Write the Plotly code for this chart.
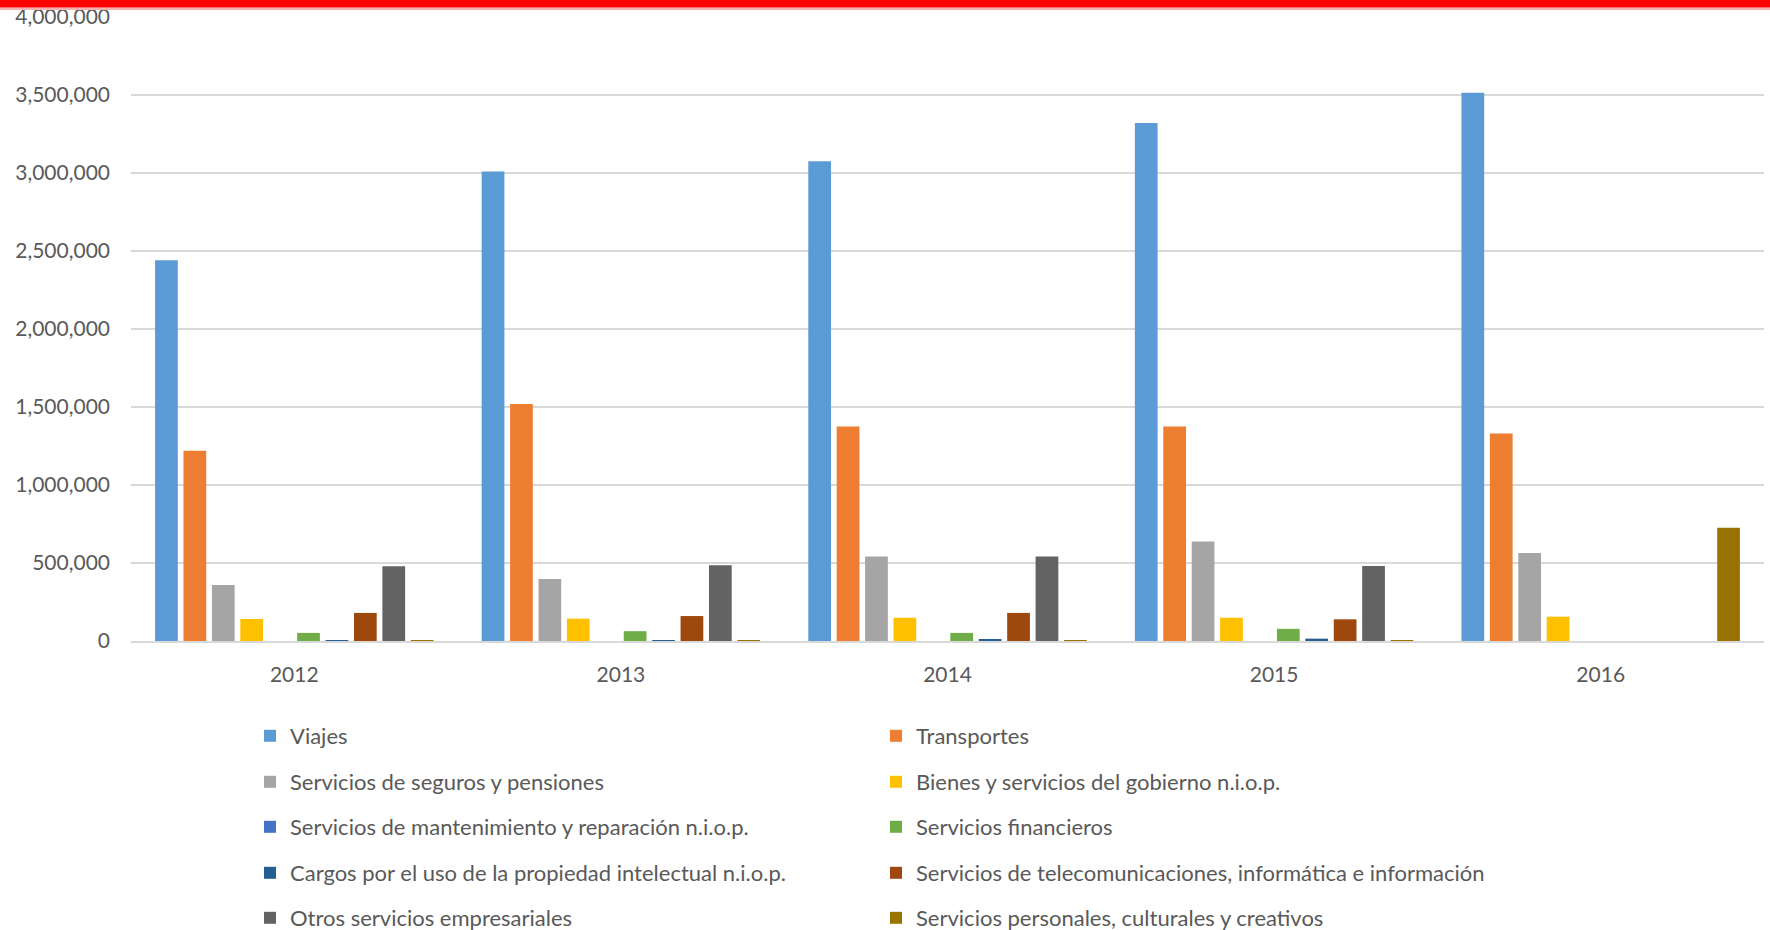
import plotly.graph_objects as go

years = ["2012", "2013", "2014", "2015", "2016"]

viajes = [2440000, 3010000, 3075000, 3320000, 3515000]
transportes = [1220000, 1520000, 1375000, 1375000, 1330000]
seguros = [359000, 398000, 541000, 638000, 564000]
bienes = [141000, 143000, 149000, 149000, 156000]
mantenimiento = [None, None, None, None, None]
financieros = [52000, 63000, 52000, 78000, None]
cargos = [6000, 2000, 6500, 15000, None]
telecom = [180000, 160000, 180000, 139000, None]
otros = [479000, 485000, 541000, 481000, None]
personales = [6000, 1000, 2000, 2000, 726000]

series_names = [
    "Viajes",
    "Transportes",
    "Servicios de seguros y pensiones",
    "Bienes y servicios del gobierno n.i.o.p.",
    "Servicios de mantenimiento y reparación n.i.o.p.",
    "Servicios financieros",
    "Cargos por el uso de la propiedad intelectual n.i.o.p.",
    "Servicios de telecomunicaciones, informática e información",
    "Otros servicios empresariales",
    "Servicios personales, culturales y creativos",
]
series_values = [viajes, transportes, seguros, bienes, mantenimiento,
                 financieros, cargos, telecom, otros, personales]
colors = ["#5B9BD5", "#ED7D31", "#A5A5A5", "#FFC000", "#4472C4",
          "#70AD47", "#255E91", "#9E480E", "#636363", "#997300"]

FONT = "Lato"
TXT = "#595959"

W, H = 1770, 930
L, R = 131, 1764
T, B = 17, 641
pw, ph = R - L, B - T

fig = go.Figure()
legend_layout = {}
row_px = [736, 782, 827, 873, 918]
col_px = [250, 876]
for i, (name, vals, col) in enumerate(zip(series_names, series_values, colors)):
    key = "legend" if i == 0 else f"legend{i+1}"
    fig.add_trace(go.Bar(x=years, y=vals, name=name, marker_color=col,
                         marker_line_width=0, legend=key))
    r, c = divmod(i, 2)
    legend_layout[key] = dict(
        x=(col_px[c] - L) / pw, y=(B - row_px[r]) / ph,
        xanchor="left", yanchor="middle", orientation="h",
        font=dict(family=FONT, size=22, color=TXT),
        bgcolor="rgba(0,0,0,0)", borderwidth=0,
    )

fig.update_layout(
    width=W, height=H,
    margin=dict(l=L, r=W - R, t=T, b=H - B, autoexpand=False),
    paper_bgcolor="white", plot_bgcolor="white",
    barmode="group", bargap=0.13, bargroupgap=0.2,
    font=dict(family=FONT, size=21, color=TXT),
    showlegend=True,
    **legend_layout,
)
fig.update_yaxes(range=[0, 4000000], dtick=500000, tickformat=",d",
                 showgrid=True, gridcolor="#D9D9D9", gridwidth=1.5,
                 zeroline=False, showline=False, ticks="",
                 ticklabelstandoff=20,
                 tickfont=dict(family=FONT, size=21, color=TXT))
fig.update_xaxes(type="category", showline=True, linecolor="#D9D9D9",
                 linewidth=1.5, ticks="", ticklabelstandoff=14,
                 tickfont=dict(family=FONT, size=21, color=TXT))

# red band across the top
fig.add_shape(type="rect", xref="paper", yref="paper",
              x0=-0.2, x1=1.2, y0=(B - 10) / ph, y1=(B - 7.5) / ph,
              fillcolor="#F6B0B0", line_width=0, layer="above")
fig.add_shape(type="rect", xref="paper", yref="paper",
              x0=-0.2, x1=1.2, y0=(B - 7.5) / ph, y1=(B + 5) / ph,
              fillcolor="#FF0000", line_width=0, layer="above")

fig.write_html("out.html", config={"displayModeBar": False},
               post_script="document.body.style.margin='0';document.body.style.overflow='hidden';")
